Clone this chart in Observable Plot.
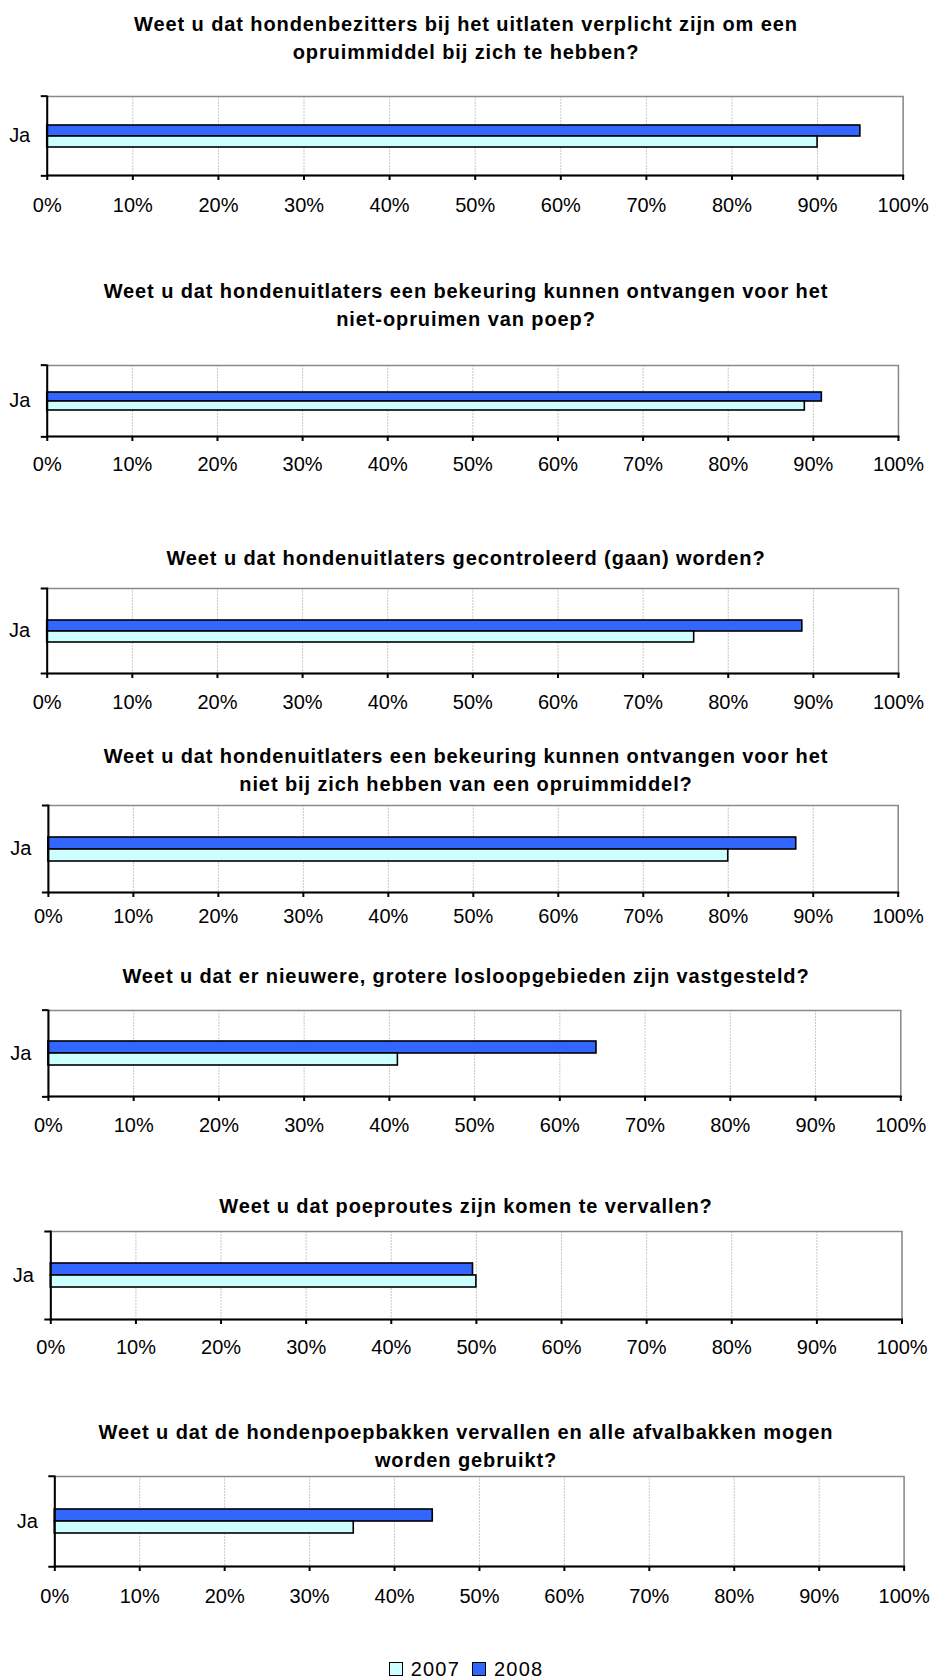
<!DOCTYPE html>
<html><head><meta charset="utf-8">
<script src="https://cdn.jsdelivr.net/npm/d3@7"></script>
<script src="https://cdn.jsdelivr.net/npm/@observablehq/plot@0.6"></script>
<style>
body{margin:0;background:#fff;font-family:Arial,"Liberation Sans",sans-serif;color:#000;}
#root{position:relative;width:932px;height:1679px;overflow:hidden;background:#fff;}
.title{position:absolute;left:0;width:932px;text-align:center;font-weight:bold;font-size:20px;letter-spacing:0.9px;line-height:28px;white-space:nowrap;}
.plot{position:absolute;left:0;}
.legend{position:absolute;left:0;width:932px;display:flex;justify-content:center;align-items:center;font-size:20px;letter-spacing:1.2px;height:24px;}
.legend .item{display:flex;align-items:center;margin:0 6px;}
.legend .sw{width:12px;height:12px;border:1.6px solid #000;margin-right:8px;}
</style></head><body><div id="root"></div>
<script>
// ---- data ----
const questions = [
  ["Weet u dat hondenbezitters bij het uitlaten verplicht zijn om een", "opruimmiddel bij zich te hebben?"],
  ["Weet u dat hondenuitlaters een bekeuring kunnen ontvangen voor het", "niet-opruimen van poep?"],
  ["Weet u dat hondenuitlaters gecontroleerd (gaan) worden?"],
  ["Weet u dat hondenuitlaters een bekeuring kunnen ontvangen voor het", "niet bij zich hebben van een opruimmiddel?"],
  ["Weet u dat er nieuwere, grotere losloopgebieden zijn vastgesteld?"],
  ["Weet u dat poeproutes zijn komen te vervallen?"],
  ["Weet u dat de hondenpoepbakken vervallen en alle afvalbakken mogen", "worden gebruikt?"]
];
const categories = ["Ja"];
const years = ["2007", "2008"];
const values2007 = [90, 89, 76, 80, 41, 50, 35.2];
const values2008 = [95, 91, 88.7, 88, 64.3, 49.6, 44.5];
const tickValues = [0, 10, 20, 30, 40, 50, 60, 70, 80, 90, 100];
const yearColors = ["#ccffff", "#3366ff"];

// ---- layout (pixels) ----
const frameTop    = [96, 365.3, 588.3, 805, 1010, 1231, 1475.5];
const frameBottom = [175.7, 437, 673.3, 892, 1096.7, 1319, 1566];
const frameLeft   = [46.7, 46.7, 46.7, 47.9, 47.9, 50.3, 54.3];
const frameRight  = [902.7, 898, 898, 897.7, 900.3, 901.5, 903.6];
const titleCenter = [24, 291, 558, 756, 976, 1206, 1432];
const labelGap    = [29.5, 28, 28, 23, 28.3, 27.7, 29];

const root = document.getElementById("root");
const W = 932;

questions.forEach((q, i) => {
  const t = document.createElement("div");
  t.className = "title";
  t.style.top = (titleCenter[i] - 14) + "px";
  t.innerHTML = q.map(s => s.replace(/&/g,"&amp;").replace(/</g,"&lt;")).join("<br>");
  root.appendChild(t);

  const rows = [
    {category: categories[0], year: years[1], value: values2008[i]},
    {category: categories[0], year: years[0], value: values2007[i]}
  ];
  const H = frameBottom[i] - frameTop[i];
  const mt = 2, mb = 50;
  const fs = 20;
  const tickSize = 5;
  const tickPadding = labelGap[i] - tickSize - 0.36 * fs;
  const pad = (1 / 0.14 - 2) / 2;

  const chart = Plot.plot({
    width: W,
    height: mt + H + mb,
    marginTop: mt,
    marginBottom: mb,
    marginLeft: frameLeft[i],
    marginRight: W - frameRight[i],
    style: {fontFamily: "Arial, 'Liberation Sans', sans-serif", fontSize: fs + "px", color: "#000", background: "transparent", overflow: "visible"},
    x: {domain: [0, 100], axis: null},
    y: {domain: [years[1], years[0]], paddingInner: 0, paddingOuter: pad, axis: null},
    fy: {domain: categories, padding: 0, axis: null},
    color: {domain: years, range: yearColors},
    marks: [
      Plot.gridX(tickValues, {stroke: "#c8c8c8", strokeOpacity: 1, strokeWidth: 1, strokeDasharray: "2,1"}),
      Plot.frame({stroke: "#8a8a8a", strokeWidth: 1.5}),
      Plot.barX(rows, {x: "value", y: "year", fy: "category", fill: "year", stroke: "#000", strokeWidth: 1.6}),
      Plot.frame({anchor: "left", stroke: "#000", strokeWidth: 2}),
      Plot.frame({anchor: "bottom", stroke: "#000", strokeWidth: 2}),
      Plot.axisX(tickValues, {anchor: "bottom", tickSize: tickSize, tickPadding: tickPadding, tickFormat: d => d + "%", strokeWidth: 2, fontSize: fs, label: null}),
      Plot.axisFy({anchor: "left", tickSize: 0, tickPadding: 17, fontSize: fs, label: null}),
      Plot.axisFy({anchor: "left", tickSize: 6, tickFormat: () => "", dy: -H / 2, strokeWidth: 2, label: null}),
      Plot.axisFy({anchor: "left", tickSize: 6, tickFormat: () => "", dy: H / 2, strokeWidth: 2, label: null})
    ]
  });
  chart.classList.add("plot");
  chart.style.top = (frameTop[i] - mt) + "px";
  root.appendChild(chart);
});

// legend
const lg = document.createElement("div");
lg.className = "legend";
lg.style.top = (1669 - 12) + "px";
years.forEach((y, k) => {
  const it = document.createElement("div");
  it.className = "item";
  const sw = document.createElement("div");
  sw.className = "sw";
  sw.style.background = yearColors[k];
  const tx = document.createElement("span");
  tx.textContent = y;
  it.appendChild(sw); it.appendChild(tx);
  lg.appendChild(it);
});
root.appendChild(lg);
</script>
</body></html>
